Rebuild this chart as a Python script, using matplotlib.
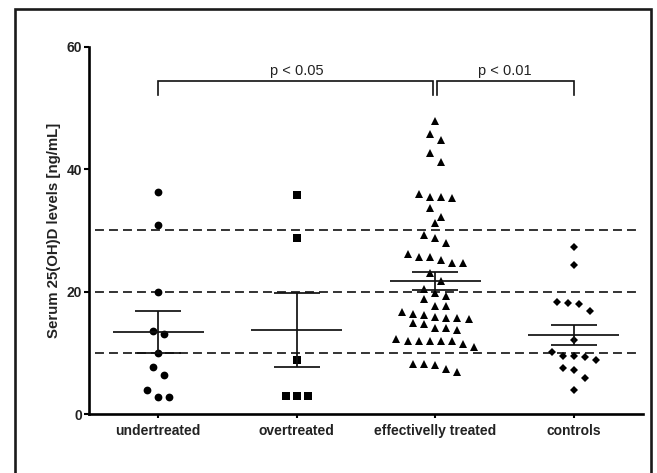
"""Scatter (dot) plot of serum 25(OH)D levels per group with mean +/- SEM."""

import matplotlib

matplotlib.use("Agg")
import matplotlib.pyplot as plt
import numpy as np
from matplotlib.patches import Rectangle

plt.rcParams["font.family"] = ["Liberation Sans", "DejaVu Sans"]

# --- Data -------------------------------------------------------------------

GROUPS = ["undertreated", "overtreated", "effectivelly treated", "controls"]

undertreated = [36.3, 30.8, 19.9, 13.5, 13.0, 9.95, 7.75, 6.4, 4.0, 2.8, 2.8]
overtreated = [35.8, 28.7, 8.85, 2.9, 2.9, 2.9]
effectively_treated = [
    47.8, 45.7, 44.75, 42.7, 41.2,
    35.9, 35.4, 35.4, 35.3,
    33.7, 32.2, 31.2,
    29.3, 28.7, 27.9,
    26.2, 25.6, 25.6, 25.2, 24.6, 24.6,
    23.1, 21.75, 20.5, 19.8, 19.2,
    18.8, 17.7, 17.6,
    16.7, 16.3, 16.2, 15.9, 15.7, 15.7, 15.5,
    14.9, 14.7, 14.0, 14.0, 13.8,
    12.2, 12.0, 12.0, 12.0, 12.0, 11.85, 11.5, 11.0,
    8.25, 8.25, 8.0, 7.4, 6.8,
]
controls = [27.3, 24.3, 18.25, 18.2, 17.9, 16.8, 12.1,
            10.05, 9.5, 9.5, 9.35, 8.8, 7.5, 7.2, 5.95, 4.0]

SERIES = [undertreated, overtreated, effectively_treated, controls]
MARKERS = ["o", "s", "^", "D"]
MARKER_SIZES = [5.6, 5.4, 5.8, 3.8]

THRESHOLDS = [10, 20, 30]
Y_TICKS = [0, 20, 40, 60]

# significance brackets: (left group, right group, label)
BRACKETS = [(0, 2, "p < 0.05"), (2, 3, "p < 0.01")]

# --- Layout knobs -----------------------------------------------------------

ROW_HEIGHT = 1.6   # y-range (data units) merged into one swarm row
SLOT = 0.08        # horizontal spacing between points in a row (data units)
MEAN_HALF = 0.33
CAP_HALF = 0.165
BRACKET_Y = 54.4
BRACKET_DROP = 2.3
BRACKET_GAP = 0.015
INK = "#111111"


def swarm_x(center, values):
    """GraphPad-like rows: points of similar value sit side by side."""
    vals = np.asarray(values, dtype=float)
    order = np.argsort(-vals, kind="stable")
    xs = np.empty_like(vals)
    rows, current = [], []
    for i in order:
        if current and vals[current[0]] - vals[i] > ROW_HEIGHT:
            rows.append(current)
            current = []
        current.append(i)
    if current:
        rows.append(current)
    for row in rows:
        n = len(row)
        for k, i in enumerate(row):
            xs[i] = center + (k - (n - 1) / 2) * SLOT
    return xs


fig = plt.figure(figsize=(6.57, 4.73), dpi=100)
ax = fig.add_axes([0.1355, 0.1247, 0.8432, 0.7765])

# outer frame of the original figure (its bottom edge is cropped off)
fig.patches.append(
    Rectangle((0.0228, -0.05), 0.968, 1.031, transform=fig.transFigure,
              fill=False, edgecolor="#1a1a1a", linewidth=1.9, clip_on=False)
)

for y in THRESHOLDS:
    ax.hlines(y, -0.457, 3.48, colors="#333333", linewidth=1.4,
              linestyles=(0, (4.6, 2.6)), zorder=1)

for pos, (vals, marker, ms) in enumerate(zip(SERIES, MARKERS, MARKER_SIZES)):
    vals = np.asarray(vals, dtype=float)
    ax.plot(swarm_x(pos, vals), vals, linestyle="none", marker=marker,
            markersize=ms, color="black", markeredgewidth=0, zorder=2)

    mean = vals.mean()
    sem = vals.std(ddof=1) / np.sqrt(len(vals))
    ax.hlines(mean, pos - MEAN_HALF, pos + MEAN_HALF, colors=INK, linewidth=1.25, zorder=3)
    ax.hlines([mean - sem, mean + sem], pos - CAP_HALF, pos + CAP_HALF,
              colors=INK, linewidth=1.25, zorder=3)
    ax.vlines(pos, mean - sem, mean + sem, colors=INK, linewidth=1.25, zorder=3)

for left, right, label in BRACKETS:
    x0 = left + (BRACKET_GAP if left == 2 else 0)
    x1 = right - (BRACKET_GAP if right == 2 else 0)
    ax.plot([x0, x0, x1, x1],
            [BRACKET_Y - BRACKET_DROP, BRACKET_Y, BRACKET_Y, BRACKET_Y - BRACKET_DROP],
            color=INK, linewidth=1.2, clip_on=False, solid_joinstyle="miter")
    ax.text((left + right) / 2, BRACKET_Y + 1.0, label, ha="center", va="baseline",
            fontsize=10.5, color="#222222")

ax.set_xlim(-0.5, 3.5)
ax.set_ylim(0, 60)
ax.set_yticks(Y_TICKS)
ax.set_xticks(range(len(GROUPS)))
ax.set_xticklabels(GROUPS)
ax.set_ylabel("Serum 25(OH)D levels [ng/mL]", fontsize=10.8, fontweight="bold",
              color="#222222", labelpad=4)

for side in ("top", "right"):
    ax.spines[side].set_visible(False)
for side in ("left", "bottom"):
    ax.spines[side].set_linewidth(1.9)
    ax.spines[side].set_color("black")

ax.tick_params(axis="y", direction="out", length=3.6, width=1.5, pad=1.5,
               labelsize=10, colors="black", labelcolor="#222222")
ax.tick_params(axis="x", direction="out", length=3.0, width=1.5, pad=4,
               labelsize=10, colors="black", labelcolor="#222222")
for lab in ax.get_xticklabels() + ax.get_yticklabels():
    lab.set_fontweight("bold")

fig.savefig("out.png", dpi=100)
